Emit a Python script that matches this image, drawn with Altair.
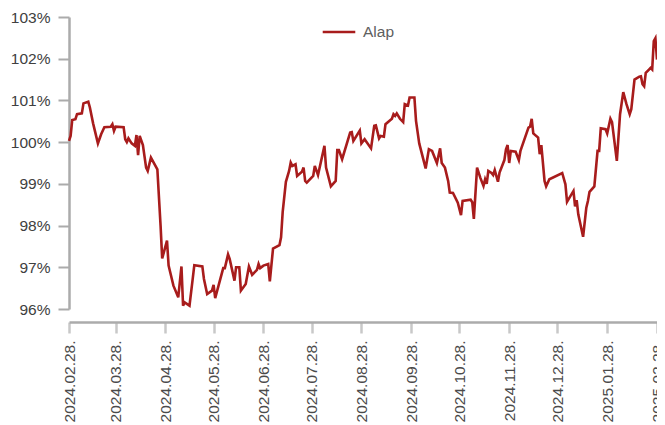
import altair as alt
import pandas as pd

dates = [
    "2024-02-28", "2024-02-29", "2024-03-01", "2024-03-03", "2024-03-04", "2024-03-07", "2024-03-08",
    "2024-03-11", "2024-03-12", "2024-03-14", "2024-03-17", "2024-03-19", "2024-03-21", "2024-03-25",
    "2024-03-26", "2024-03-27", "2024-03-28", "2024-04-02", "2024-04-03", "2024-04-04", "2024-04-05",
    "2024-04-07", "2024-04-09", "2024-04-10", "2024-04-11", "2024-04-12", "2024-04-14", "2024-04-16",
    "2024-04-17", "2024-04-19", "2024-04-23", "2024-04-25", "2024-04-26", "2024-04-29", "2024-04-30",
    "2024-05-01", "2024-05-03", "2024-05-06", "2024-05-08", "2024-05-09", "2024-05-10", "2024-05-13",
    "2024-05-15", "2024-05-16", "2024-05-21", "2024-05-22", "2024-05-24", "2024-05-27", "2024-05-28",
    "2024-05-29", "2024-06-03", "2024-06-04", "2024-06-06", "2024-06-07", "2024-06-10", "2024-06-11",
    "2024-06-13", "2024-06-14", "2024-06-17", "2024-06-19", "2024-06-21", "2024-06-24", "2024-06-25",
    "2024-06-26", "2024-06-28", "2024-07-01", "2024-07-02", "2024-07-04", "2024-07-08", "2024-07-09",
    "2024-07-10", "2024-07-12", "2024-07-14", "2024-07-15", "2024-07-16", "2024-07-18", "2024-07-19",
    "2024-07-22", "2024-07-23", "2024-07-24", "2024-07-25", "2024-07-29", "2024-07-30", "2024-08-01",
    "2024-08-05", "2024-08-06", "2024-08-09", "2024-08-12", "2024-08-13", "2024-08-14", "2024-08-16",
    "2024-08-21", "2024-08-22", "2024-08-23", "2024-08-27", "2024-08-28", "2024-08-30", "2024-09-03",
    "2024-09-05", "2024-09-06", "2024-09-08", "2024-09-09", "2024-09-11", "2024-09-12", "2024-09-16",
    "2024-09-17", "2024-09-18", "2024-09-19", "2024-09-21", "2024-09-23", "2024-09-24", "2024-09-26",
    "2024-09-27", "2024-09-30", "2024-10-01", "2024-10-03", "2024-10-07", "2024-10-09", "2024-10-11",
    "2024-10-14", "2024-10-16", "2024-10-17", "2024-10-19", "2024-10-21", "2024-10-22", "2024-10-24",
    "2024-10-27", "2024-10-29", "2024-10-30", "2024-11-04", "2024-11-05", "2024-11-06", "2024-11-08",
    "2024-11-10", "2024-11-12", "2024-11-13", "2024-11-14", "2024-11-15", "2024-11-17", "2024-11-18",
    "2024-11-19", "2024-11-21", "2024-11-22", "2024-11-25", "2024-11-26", "2024-11-27", "2024-11-28",
    "2024-11-29", "2024-12-02", "2024-12-04", "2024-12-05", "2024-12-10", "2024-12-11", "2024-12-12",
    "2024-12-13", "2024-12-16", "2024-12-17", "2024-12-18", "2024-12-20", "2024-12-21", "2024-12-23",
    "2024-12-31", "2025-01-02", "2025-01-03", "2025-01-07", "2025-01-08", "2025-01-09", "2025-01-10",
    "2025-01-13", "2025-01-15", "2025-01-16", "2025-01-17", "2025-01-20", "2025-01-22", "2025-01-23",
    "2025-01-24", "2025-01-27", "2025-01-28", "2025-01-30", "2025-01-31", "2025-02-03", "2025-02-05",
    "2025-02-07", "2025-02-09", "2025-02-11", "2025-02-12", "2025-02-14", "2025-02-17", "2025-02-18",
    "2025-02-19", "2025-02-20", "2025-02-21", "2025-02-23", "2025-02-24", "2025-02-25", "2025-02-26",
    "2025-02-27", "2025-02-28",
]

alap = [
    100.03, 100.15, 100.53, 100.55, 100.67, 100.69, 100.93,
    100.97, 100.83, 100.45, 99.97, 100.19, 100.36, 100.37,
    100.43, 100.27, 100.37, 100.36, 100.07, 100.00, 100.09,
    99.97, 99.91, 100.17, 99.69, 100.15, 99.93, 99.39,
    99.31, 99.63, 99.35, 98.00, 97.21, 97.64, 97.04,
    96.88, 96.56, 96.28, 97.02, 96.08, 96.16, 96.08,
    96.72, 97.05, 97.02, 96.72, 96.36, 96.44, 96.58,
    96.26, 96.98, 96.98, 97.31, 97.20, 96.68, 97.00,
    97.00, 96.44, 96.60, 97.02, 96.82, 96.94, 97.08,
    96.98, 97.04, 97.08, 96.66, 97.45, 97.53, 97.72,
    98.32, 99.05, 99.31, 99.51, 99.43, 99.47, 99.19,
    99.29, 99.39, 99.07, 99.03, 99.19, 99.43, 99.21,
    99.91, 99.39, 98.94, 99.07, 99.81, 99.81, 99.59,
    100.23, 100.24, 100.03, 100.28, 99.97, 100.07, 99.85,
    100.39, 100.40, 100.09, 100.15, 100.13, 100.43, 100.56,
    100.67, 100.63, 100.69, 100.56, 100.48, 100.91, 100.88,
    101.07, 101.07, 100.51, 99.97, 99.37, 99.83, 99.79,
    99.50, 99.85, 99.50, 99.39, 99.07, 98.79, 98.78,
    98.55, 98.25, 98.59, 98.62, 98.56, 98.16, 99.39,
    99.15, 98.95, 99.11, 99.00, 99.31, 99.26, 99.21,
    99.33, 99.05, 99.27, 99.57, 99.83, 99.93, 99.50,
    99.79, 99.77, 99.57, 99.79, 100.35, 100.37, 100.56,
    100.21, 100.11, 99.71, 99.93, 99.07, 98.94, 99.11,
    99.26, 98.99, 98.57, 98.83, 98.46, 98.61, 98.27,
    97.73, 98.43, 98.59, 98.81, 98.94, 99.79, 99.79,
    100.33, 100.31, 100.21, 100.56, 100.48, 99.55, 100.67,
    101.20, 100.91, 100.67, 100.79, 101.50, 101.57, 101.58,
    101.39, 101.34, 101.66, 101.74, 101.78, 101.74, 102.42,
    102.49, 101.98,
]

tick_dates = [
    (2024, 2), (2024, 3), (2024, 4), (2024, 5), (2024, 6), (2024, 7), (2024, 8),
    (2024, 9), (2024, 10), (2024, 11), (2024, 12), (2025, 1), (2025, 2),
]
y_ticks = [96, 97, 98, 99, 100, 101, 102, 103]
series_name = "Alap"

df = pd.DataFrame({"date": dates, "value": alap, "series": series_name})

font = "Liberation Sans"
axis_gray = "#ababab"
fs = 15.5

x_axis = alt.Axis(
    values=[alt.DateTime(year=y, month=m, date=28, utc=True) for y, m in tick_dates],
    format="%Y.%m.%d.",
    labelAngle=270,
    labelAlign="right",
    labelBaseline="middle",
    labelFontSize=fs,
    labelColor="#4a4a4a",
    labelFont=font,
    labelPadding=7,
    labelOverlap=False,
    labelFlush=False,
    labelBound=False,
    domainColor=axis_gray,
    domainWidth=2.5,
    tickColor="#c8c8c8",
    tickWidth=2.5,
    tickSize=11,
    grid=False,
    offset=13,
    title=None,
)

y_axis = alt.Axis(
    values=y_ticks,
    labelExpr="datum.value + '%'",
    labelFontSize=fs,
    labelColor="#404040",
    labelFont=font,
    labelPadding=8,
    domainColor=axis_gray,
    domainWidth=2.5,
    tickColor=axis_gray,
    tickWidth=2,
    tickSize=11,
    grid=False,
    title=None,
)

chart = alt.Chart(df).mark_line(strokeWidth=2.6, interpolate="linear").encode(
    x=alt.X(
        "date:T",
        scale=alt.Scale(
            type="utc",
            domain=[alt.DateTime(year=2024, month=2, date=28, utc=True),
                    alt.DateTime(year=2025, month=2, date=28, utc=True)],
            nice=False,
        ),
        axis=x_axis,
    ),
    y=alt.Y("value:Q", scale=alt.Scale(domain=[96, 103], nice=False, zero=False), axis=y_axis),
    color=alt.Color(
        "series:N",
        scale=alt.Scale(domain=[series_name], range=["#a81c1c"]),
        legend=alt.Legend(
            title=None,
            orient="none",
            legendX=252,
            legendY=-3,
            symbolType="stroke",
            symbolSize=1060,
            symbolStrokeWidth=2.6,
            labelFontSize=fs,
            labelColor="#606060",
            labelFont=font,
            padding=0,
            labelOffset=6,
        ),
    ),
).properties(
    width=588,
    height=292,
    autosize=alt.AutoSizeParams(type="none"),
    padding={"left": 61, "top": 9, "right": 0, "bottom": 118},
).configure_view(stroke=None)

chart.save("out.html", embed_options={"renderer": "svg", "actions": False})
